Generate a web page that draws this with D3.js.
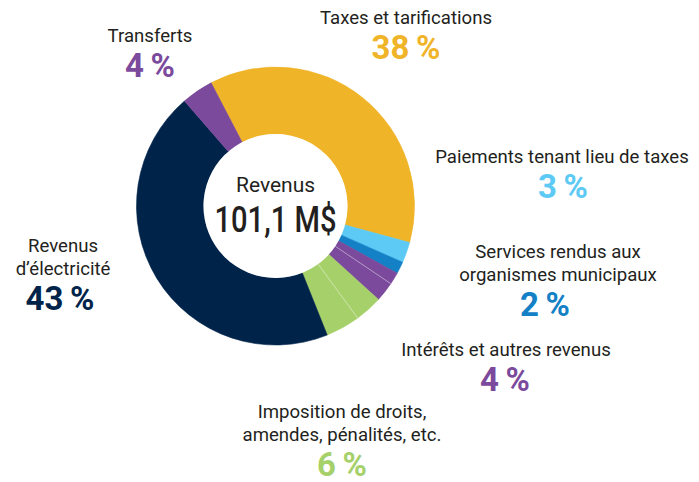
<!DOCTYPE html>
<html>
<head>
<meta charset="utf-8">
<script src="https://cdn.jsdelivr.net/npm/d3@7"></script>
<style>
  html, body { margin: 0; padding: 0; background: #fff; }
  svg { display: block; font-family: Roboto, "Liberation Sans", sans-serif; }
</style>
</head>
<body>
<svg width="699" height="482"></svg>
<script>
// slice order, clockwise from the top of the taxes slice
var categories = ["Taxes et tarifications", "Paiements tenant lieu de taxes",
  "Services rendus aux organismes municipaux", "Intérêts", "Autres revenus",
  "Imposition de droits", "Amendes, pénalités, etc.", "Revenus d'électricité", "Transferts"];
// share of the ring (%) as drawn in the picture
var shares = [36.9, 2.4, 1.4, 1.4, 2.3, 3.2, 4.0, 44.7, 3.7];
var groups = ["taxes", "paiements", "services", "interets", "interets", "imposition", "imposition", "electricite", "transferts"];

// labelled groups
var groupKeys = ["transferts", "taxes", "paiements", "services", "interets", "imposition", "electricite"];
var groupLines = [["Transferts"], ["Taxes et tarifications"], ["Paiements tenant lieu de taxes"],
  ["Services rendus aux", "organismes municipaux"], ["Intérêts et autres revenus"],
  ["Imposition de droits,", "amendes, pénalités, etc."], ["Revenus", "d\u2019électricité"]];
var groupPct = ["4", "38", "3", "2", "4", "6", "43"];

var centerTitle = "Revenus";
var centerTotal = "101,1 M$";

var colors = {
  taxes: "#f0b428", paiements: "#5ccaf4", services: "#1480c6", interets: "#7b4a9c",
  imposition: "#a6d069", electricite: "#00234a", transferts: "#7b4a9c"
};

// label anchors: [centre x, baseline of first line, centre x of the percent]
var layout = {
  transferts: [150, 42, 150], taxes: [406, 24, 406], paiements: [562, 163, 563],
  services: [558, 258, 545], interets: [506, 356, 505], imposition: [342, 418, 342],
  electricite: [63, 252, 60]
};

var svg = d3.select("svg");
var cx = 275.5, cy = 206, rOut = 139, rIn = 72;

var pie = d3.pie().sort(null).value(function(d) { return d; })
  .startAngle(-27.6 * Math.PI / 180)
  .endAngle(-27.6 * Math.PI / 180 + 2 * Math.PI);
var arc = d3.arc().innerRadius(rIn).outerRadius(rOut);

var g = svg.append("g").attr("transform", "translate(" + cx + "," + cy + ")");
var arcs = pie(shares);

g.selectAll("path.slice")
  .data(arcs)
  .enter().append("path")
  .attr("class", "slice")
  .attr("d", arc)
  .attr("fill", function(d, i) { return colors[groups[i]]; })
  .attr("stroke", function(d, i) { return colors[groups[i]]; })
  .attr("stroke-width", 0.6);

// faint dividers inside a group
arcs.forEach(function(d, i) {
  if (i > 0 && groups[i] === groups[i - 1]) {
    var a = d.startAngle;
    g.append("line")
      .attr("x1", rIn * Math.sin(a)).attr("y1", -rIn * Math.cos(a))
      .attr("x2", rOut * Math.sin(a)).attr("y2", -rOut * Math.cos(a))
      .attr("stroke", "#ffffff").attr("stroke-opacity", 0.6).attr("stroke-width", 0.7);
  }
});

g.append("circle").attr("r", rIn).attr("fill", "#fff");

g.append("text").attr("text-anchor", "middle").attr("y", -14)
  .attr("font-size", 21).attr("fill", "#231f20").text(centerTitle);
g.append("text").attr("text-anchor", "middle").attr("y", 26)
  .attr("font-size", 36).attr("font-weight", 500)
  .attr("textLength", 122).attr("lengthAdjust", "spacingAndGlyphs")
  .attr("fill", "#231f20").text(centerTotal);

groupKeys.forEach(function(k, i) {
  var pos = layout[k];
  var lines = groupLines[i];
  var t = svg.append("text").attr("text-anchor", "middle")
    .attr("font-size", 18.6).attr("fill", "#231f20");
  lines.forEach(function(line, j) {
    t.append("tspan").attr("x", pos[0]).attr("y", pos[1] + j * 22.5).text(line);
  });
  svg.append("text").attr("text-anchor", "middle")
    .attr("x", pos[2]).attr("y", pos[1] + (lines.length - 1) * 22.5 + 35)
    .attr("font-size", 33).attr("font-weight", 700)
    .attr("fill", colors[k])
    .text(groupPct[i] + "\u2009%");
});
</script>
</body>
</html>
